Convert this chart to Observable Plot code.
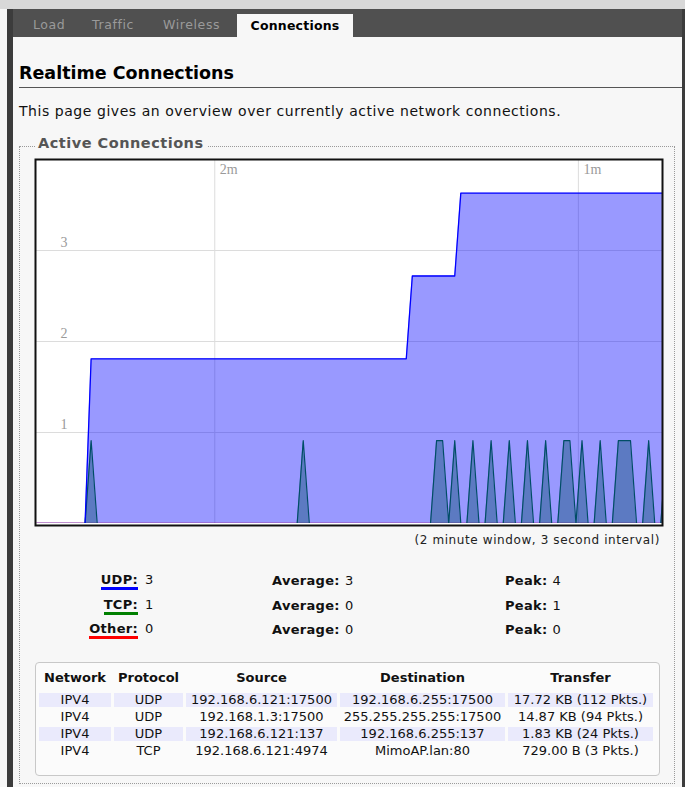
<!DOCTYPE html>
<html>
<head>
<meta charset="utf-8">
<script src="https://cdn.jsdelivr.net/npm/d3@7"></script>
<script src="https://cdn.jsdelivr.net/npm/@observablehq/plot@0.6"></script>
<style>
  html, body { margin: 0; padding: 0; }
  body { width: 685px; height: 787px; overflow: hidden; position: relative; background: #f7f7f7;
         font-family: "DejaVu Sans", Verdana, sans-serif; color: #111; }
  .abs { position: absolute; white-space: nowrap; }
  #topstrip { left: 0; top: 0; width: 685px; height: 9px; background: #d8d8d8; }
  #leftbar { left: 7px; top: 9px; width: 6px; height: 778px; background: #3c3c3c; }
  #rightbar { left: 682px; top: 9px; width: 3px; height: 778px; background: #3c3c3c; }
  #tabbar { left: 7px; top: 9px; width: 678px; height: 28px; background: #505050; }
  .tab { top: 17px; font-size: 12.5px; letter-spacing: 0.6px; color: #9a9a9a; }
  #tabactive { left: 237px; top: 14px; width: 116px; height: 24px; background: #f7f7f7; text-align: center;
               font-size: 12.5px; font-weight: bold; line-height: 24px; color: #000; letter-spacing: 0.2px; }
  #title { left: 19px; top: 63px; font-size: 17.5px; font-weight: bold; color: #000; }
  #titleline { left: 19px; top: 87px; width: 663px; height: 1px; background: #555; }
  #desc { left: 19px; top: 103px; font-size: 14px; letter-spacing: 0.55px; color: #111; }
  #fieldset { left: 19px; top: 146px; width: 654px; height: 636px; border: 1px dotted #9a9a9a; }
  #legend { left: 35px; top: 135px; padding: 0 3px; background: #f7f7f7; font-size: 14.5px; letter-spacing: 0.5px;
            font-weight: bold; color: #555; }
  #chart { left: 32px; top: 156px; }
  #caption { right: 25px; top: 533px; font-size: 12px; letter-spacing: 0.6px; color: #222; }
  #stats .abs { line-height: 16px; }
  .lab { font-size: 13px; font-weight: bold; color: #111; letter-spacing: 0.3px; }
  .val { font-size: 13px; color: #111; }
  #conn { left: 35px; top: 662px; width: 623px; height: 112px; border: 1px solid #c8c8c8; border-radius: 4px; background: #fbfbfb; }
  #conn table { border-collapse: separate; border-spacing: 3px 3px; margin: 4px 0 0 0; font-size: 13px; color: #111; }
  #conn th { font-weight: bold; height: 20px; line-height: 16px; vertical-align: top; padding: 0; text-align: center; }
  #conn td { height: 14px; line-height: 14px; padding: 0; text-align: center; }
  #conn tr.alt td { background: #eaeafc; }
</style>
</head>
<body>
<div id="topstrip" class="abs"></div>
<div id="tabbar" class="abs"></div>
<div id="leftbar" class="abs"></div>
<div id="rightbar" class="abs"></div>
<div class="abs tab" style="left:33px">Load</div>
<div class="abs tab" style="left:92px">Traffic</div>
<div class="abs tab" style="left:163px">Wireless</div>
<div id="tabactive" class="abs">Connections</div>

<div id="title" class="abs">Realtime Connections</div>
<div id="titleline" class="abs"></div>
<div id="desc" class="abs">This page gives an overview over currently active network connections.</div>

<div id="fieldset" class="abs"></div>
<div id="legend" class="abs">Active Connections</div>
<div id="chart" class="abs"></div>
<div id="caption" class="abs">(2 minute window, 3 second interval)</div>
<div id="stats"></div>
<div id="conn" class="abs"></div>

<script>
// ---- chart data (in the graph's axis units) ----
// UDP: step vertices (sample index, value)
const udpSample = [0, 8, 9, 61, 62, 69, 70, 104];
const udpValue  = [0, 0, 1.81, 1.81, 2.72, 2.72, 3.63, 3.63];
// TCP: one value per 3-second sample, index 0..104
const tcpValue = [
  0,0,0,0,0,0,0,0,0,0.91,
  0,0,0,0,0,0,0,0,0,0,
  0,0,0,0,0,0,0,0,0,0,
  0,0,0,0,0,0,0,0,0,0,
  0,0,0,0,0.91,0,0,0,0,0,
  0,0,0,0,0,0,0,0,0,0,
  0,0,0,0,0,0,0.91,0.91,0,0.91,
  0,0,0.91,0,0,0.91,0,0,0.91,0,
  0,0.91,0,0,0.91,0,0,0.91,0.91,0,
  0.91,0,0,0.91,0,0,0.91,0.91,0.91,0,
  0,0.91,0,0,0.91
];
// Other: flat zero
const otherSample = [0, 104];
const otherValue  = [0, 0];

const yTicks = [1, 2, 3];
const xGridSample = [29.4, 89.4];
const xGridLabel = ["2m", "1m"];

// legend / stats
const protocols = ["UDP", "TCP", "Other"];
const protoColors = ["#0000ff", "#008000", "#ff0000"];
const currentVals = [3, 1, 0];
const averageVals = [3, 0, 0];
const peakVals = [4, 1, 0];

// connection table
const tableHeader = ["Network", "Protocol", "Source", "Destination", "Transfer"];
const colNetwork = ["IPV4", "IPV4", "IPV4", "IPV4"];
const colProtocol = ["UDP", "UDP", "UDP", "TCP"];
const colSource = ["192.168.6.121:17500", "192.168.1.3:17500", "192.168.6.121:137", "192.168.6.121:4974"];
const colDest = ["192.168.6.255:17500", "255.255.255.255:17500", "192.168.6.255:137", "MimoAP.lan:80"];
const colTransfer = ["17.72 KB (112 Pkts.)", "14.87 KB (94 Pkts.)", "1.83 KB (24 Pkts.)", "729.00 B (3 Pkts.)"];

// ---- build chart ----
const udp = udpSample.map((s, i) => ({s, v: udpValue[i]}));
const tcp = tcpValue.map((v, i) => ({s: i, v}));
const other = otherSample.map((s, i) => ({s, v: otherValue[i]}));
const xLabelMap = new Map(xGridSample.map((s, i) => [s, xGridLabel[i]]));

const chart = Plot.plot({
  width: 633,
  height: 372,
  marginLeft: 3, marginRight: 3, marginTop: 3, marginBottom: 5,
  x: {domain: [-0.18, 103.28]},
  y: {domain: [0, 4]},
  style: {background: "transparent", overflow: "visible"},
  marks: [
    Plot.frame({fill: "white", insetBottom: -2}),
    Plot.gridY(yTicks, {stroke: "#dcdcdc", strokeOpacity: 1, strokeWidth: 1}),
    Plot.gridX(xGridSample, {stroke: "#dcdcdc", strokeOpacity: 1, strokeWidth: 1}),
    Plot.axisY(yTicks, {anchor: "left", label: null, tickSize: 0, tickPadding: 0, textAnchor: "start", dx: 25, dy: -8,
      fill: "#9a9a9a", fontSize: 14, fontFamily: "Liberation Serif, serif", tickFormat: d => String(d)}),
    Plot.axisX(xGridSample, {anchor: "top", label: null, tickSize: 0, tickPadding: 0, textAnchor: "start", dx: 5, dy: 14,
      fill: "#9a9a9a", fontSize: 14, fontFamily: "Liberation Serif, serif", tickFormat: d => xLabelMap.get(d)}),
    Plot.areaY(other, {x: "s", y: "v", fill: "#ff0000", fillOpacity: 0.4, clip: true}),
    Plot.lineY(other, {x: "s", y: "v", stroke: "#ff0000", strokeWidth: 1.5, clip: true}),
    Plot.areaY(tcp, {x: "s", y: "v", fill: "#008000", fillOpacity: 0.4, clip: true}),
    Plot.lineY(tcp, {x: "s", y: "v", stroke: "#008000", strokeWidth: 1.2, clip: true}),
    Plot.areaY(udp, {x: "s", y: "v", fill: "#0000ff", fillOpacity: 0.4, clip: true}),
    Plot.lineY(udp, {x: "s", y: "v", stroke: "#0000ff", strokeWidth: 1.3, clip: true}),
    Plot.frame({stroke: "#111", strokeWidth: 2, insetBottom: -2})
  ]
});
document.getElementById("chart").appendChild(chart);

// ---- stats block ----
const stats = document.getElementById("stats");
const rowTop = [572, 597, 621];
protocols.forEach((p, i) => {
  const top = rowTop[i];
  const lab = document.createElement("div");
  lab.className = "abs lab";
  lab.style.right = (685 - 138) + "px";
  lab.style.top = top + "px";
  lab.innerHTML = `<span style="border-bottom:3px solid ${protoColors[i]}">${p}:</span>`;
  stats.appendChild(lab);
  const v = document.createElement("div");
  v.className = "abs val"; v.style.left = "145px"; v.style.top = top + "px"; v.textContent = currentVals[i];
  stats.appendChild(v);
  const a = document.createElement("div");
  a.className = "abs"; a.style.left = "272px"; a.style.top = top + "px";
  a.innerHTML = `<span class="lab">Average:</span> <span class="val">${averageVals[i]}</span>`;
  stats.appendChild(a);
  const pk = document.createElement("div");
  pk.className = "abs"; pk.style.left = "505px"; pk.style.top = top + "px";
  pk.innerHTML = `<span class="lab">Peak:</span> <span class="val">${peakVals[i]}</span>`;
  stats.appendChild(pk);
});

// ---- connections table ----
const colWidths = [72, 69, 151, 165, 145];
let html = "<table><colgroup>" + colWidths.map(w => `<col style="width:${w}px">`).join("") + "</colgroup><tr>";
html += tableHeader.map(h => `<th>${h}</th>`).join("") + "</tr>";
colNetwork.forEach((n, i) => {
  html += `<tr class="${i % 2 === 0 ? "alt" : ""}"><td>${n}</td><td>${colProtocol[i]}</td><td>${colSource[i]}</td><td>${colDest[i]}</td><td>${colTransfer[i]}</td></tr>`;
});
html += "</table>";
document.getElementById("conn").innerHTML = html;
</script>
</body>
</html>
